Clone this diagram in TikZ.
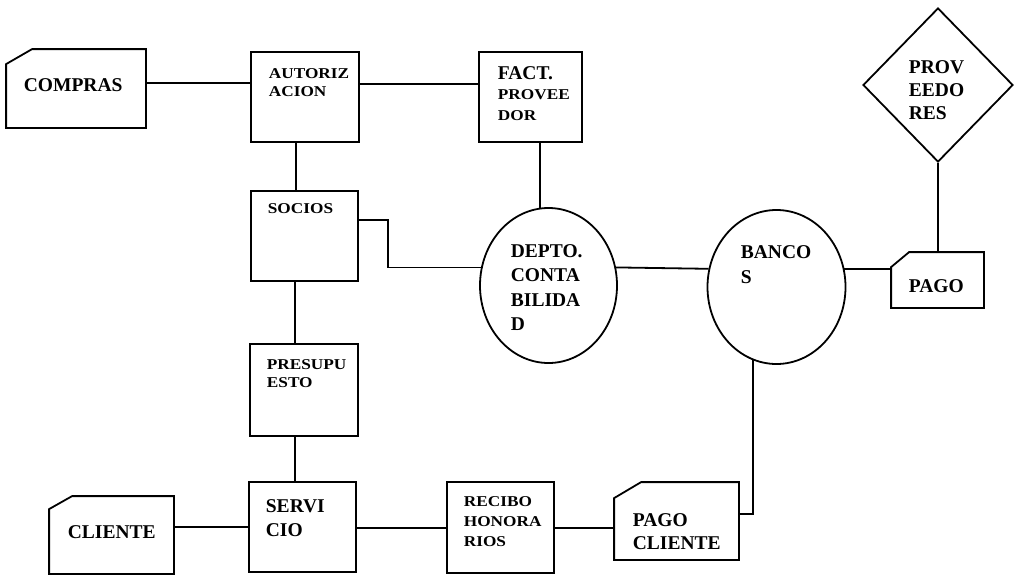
\documentclass[tikz,border=0pt]{standalone}
\usepackage{fontspec}
\setmainfont{Liberation Serif}
\newfontfamily\bigf{Liberation Serif Bold}
\newfontfamily\smf[FakeStretch=1.15]{Liberation Serif Bold}
\usetikzlibrary{shapes.geometric}
\begin{document}
\begin{tikzpicture}[x=1pt,y=-1pt,line width=1.8pt,
  box/.style={draw,rectangle,inner sep=0pt},
  cardbox/.style={rectangle,inner sep=0pt},
  oval/.style={draw,ellipse,inner sep=0pt},
  rhomb/.style={draw,diamond,inner sep=0pt},
  bigt/.style={anchor=north west,inner sep=0pt,align=left,font=\bigf\fontsize{19.5}{#1}\selectfont},
  bigt/.default=24.5,
  smt/.style={anchor=north west,inner sep=0pt,align=left,font=\smf\fontsize{15}{#1}\selectfont},
  smt/.default=18.5]
\useasboundingbox (0,0) rectangle (1019,574);
% shapes
\node[cardbox,minimum width=138pt,minimum height=77pt] (compras) at (76,88.5) {};
\draw (compras.north east) -- (compras.south east) -- (compras.south west) -- ([yshift=-15pt]compras.north west) -- ([xshift=26pt]compras.north west) -- cycle;
\node[box,minimum width=108pt,minimum height=90pt] (autoriz) at (305,97) {};
\node[box,minimum width=103pt,minimum height=90pt] (fact) at (530.5,97) {};
\node[box,minimum width=107pt,minimum height=90pt] (socios) at (304.5,236) {};
\node[box,minimum width=108pt,minimum height=92pt] (presup) at (304,390) {};
\node[box,minimum width=107pt,minimum height=90pt] (servicio) at (302.5,527) {};
\node[box,minimum width=107pt,minimum height=91pt] (recibo) at (500.5,527.5) {};
\node[cardbox,minimum width=123pt,minimum height=76pt] (cliente) at (111.5,535) {};
\draw (cliente.north east) -- (cliente.south east) -- (cliente.south west) -- ([yshift=-13pt]cliente.north west) -- ([xshift=23pt]cliente.north west) -- cycle;
\node[cardbox,minimum width=123pt,minimum height=76pt] (pagocli) at (676.5,521) {};
\draw (pagocli.north east) -- (pagocli.south east) -- (pagocli.south west) -- ([yshift=-16pt]pagocli.north west) -- ([xshift=27pt]pagocli.north west) -- cycle;
\node[cardbox,minimum width=91pt,minimum height=54pt] (pago) at (937.5,280) {};
\draw (pago.north east) -- (pago.south east) -- (pago.south west) -- ([yshift=-15pt]pago.north west) -- ([xshift=18pt]pago.north west) -- cycle;
\node[oval,minimum width=137pt,minimum height=155pt] (depto) at (548.5,285.5) {};
\node[oval,minimum width=138pt,minimum height=154pt] (bancos) at (776.5,287) {};
\node[rhomb,minimum width=150pt,minimum height=154pt] (prov) at (938,85) {};
% texts
\node[bigt] (compras-t) at (23,77.2) {COMPRAS};
\node[smt=18] (autoriz-t) at (268,67.2) {AUTORIZ\\ACION};
\node[bigt] (fact-t) at (497,65.2) {FACT.};
\node[smt=21] (fact-t2) at (497,88.2) {PROVEE\\DOR};
\node[smt] (socios-t) at (267,202.2) {SOCIOS};
\node[bigt=24.5] (depto-t) at (510,243.2) {DEPTO.\\CONTA\\BILIDA\\D};
\node[bigt=25.5] (bancos-t) at (740,244.2) {BANCO\\S};
\node[bigt=23] (prov-t) at (908,59.2) {PROV\\EEDO\\RES};
\node[bigt] (pago-t) at (908,278.2) {PAGO};
\node[smt=18] (presup-t) at (266,358.2) {PRESUPU\\ESTO};
\node[bigt=24] (servicio-t) at (265,498.2) {SERVI\\CIO};
\node[bigt] (cliente-t) at (67,524.2) {CLIENTE};
\node[smt=20] (recibo-t) at (463,495.2) {RECIBO\\HONORA\\RIOS};
\node[bigt=23] (pagocli-t) at (632,512.2) {PAGO\\CLIENTE};
% connectors
\draw (compras.east |- 0,83) -- (autoriz.west |- 0,83);
\draw (autoriz.east |- 0,84) -- (fact.west |- 0,84);
\draw (autoriz.south -| 296,0) -- (socios.north -| 296,0);
\draw (fact.south -| depto.96) -- (depto.96);
\draw (socios.east |- 0,220) -| (depto.165 -| 388,0) -- (depto.165);
\draw (depto.15) -- (bancos.165);
\draw (bancos.15) -- (pago.west |- bancos.15);
\draw (prov.south) -- (pago.north -| prov.south);
\draw (socios.south -| 295,0) -- (presup.north -| 295,0);
\draw (presup.south -| 295,0) -- (servicio.north -| 295,0);
\draw (cliente.east |- 0,527) -- (servicio.west |- 0,527);
\draw (servicio.east |- 0,528) -- (recibo.west |- 0,528);
\draw (recibo.east |- 0,528) -- (pagocli.west |- 0,528);
\draw (pagocli.east |- 0,514) -| (bancos.-108);
\end{tikzpicture}
\end{document}
